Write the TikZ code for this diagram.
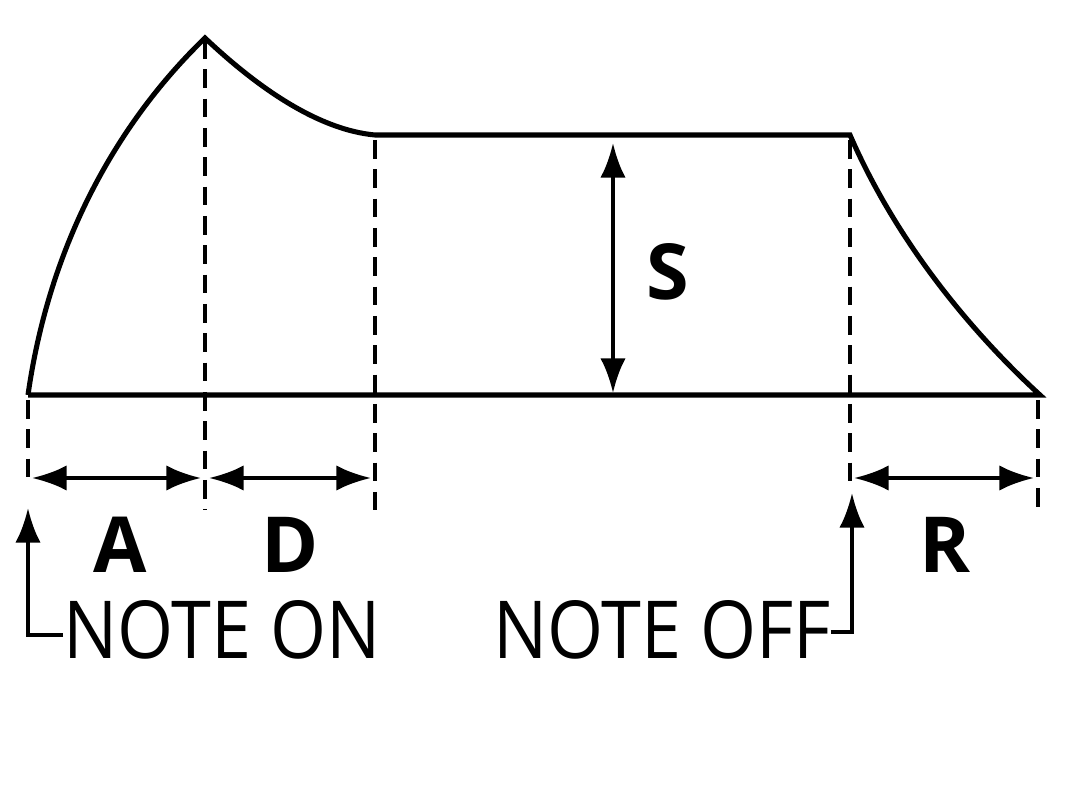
\documentclass[tikz,border=0pt]{standalone}
\usepackage{fontspec}
\setmainfont{Open Sans}
\usetikzlibrary{arrows.meta}
\begin{document}
\begin{tikzpicture}[x=0.75pt,y=-0.75pt,
  curve/.style={line width=3.8pt},
  guide/.style={line width=2.4pt,dash pattern=on 14pt off 8pt},
  dim/.style={line width=3pt,{Latex[length=26pt,width=19pt]}-{Latex[length=26pt,width=19pt]}},
  up/.style={line width=3pt,-{Latex[length=26pt,width=19pt]}},
  big/.style={font=\fontsize{58}{60}\selectfont\bfseries},
  lbl/.style={font=\fontsize{60}{62}\selectfont,inner sep=0pt,xscale=0.9}]
\useasboundingbox (0,0) rectangle (1065,791);
\coordinate (o) at (28,395);
\coordinate (p) at (205,38);
\coordinate (d) at (375,135);
\coordinate (s) at (850,135);
\coordinate (e) at (1040,395);
\draw[curve,line join=miter] (o) .. controls (50,240) and (120,120) .. (p)
  .. controls (260,90) and (320,130) .. (d) -- (s)
  .. controls (900,250) and (980,340) .. (e) -- (o);
\draw[guide] (28,400) -- (28,485);
\draw[guide] (205,40) -- (205,510);
\draw[guide] (375,140) -- (375,510);
\draw[guide] (850,140) -- (850,490);
\draw[guide] (1038,400) -- (1038,510);
\coordinate (a1) at (32,478); \coordinate (a2) at (201,478);
\coordinate (d1) at (209,478); \coordinate (d2) at (371,478);
\coordinate (r1) at (854,478); \coordinate (r2) at (1034,478);
\coordinate (s1) at (613,143); \coordinate (s2) at (613,393);
\draw[dim] (a1) -- (a2);
\draw[dim] (d1) -- (d2);
\draw[dim] (r1) -- (r2);
\draw[dim] (s1) -- (s2);
\node[big] (S) at (668,272) {S};
\node[big] (A) at (120,545) {A};
\node[big] (D) at (290,545) {D};
\node[big] (R) at (945,545) {R};
\node[lbl] (on) at (222,630) {NOTE ON};
\node[lbl] (off) at (662,630) {NOTE OFF};
\coordinate (onc) at (28,635);
\coordinate (offc) at (852,632);
\draw[up] (on.west |- onc) -- (onc) -- (28,508);
\draw[up] (off.east |- offc) -- (offc) -- (852,493);
\end{tikzpicture}
\end{document}
